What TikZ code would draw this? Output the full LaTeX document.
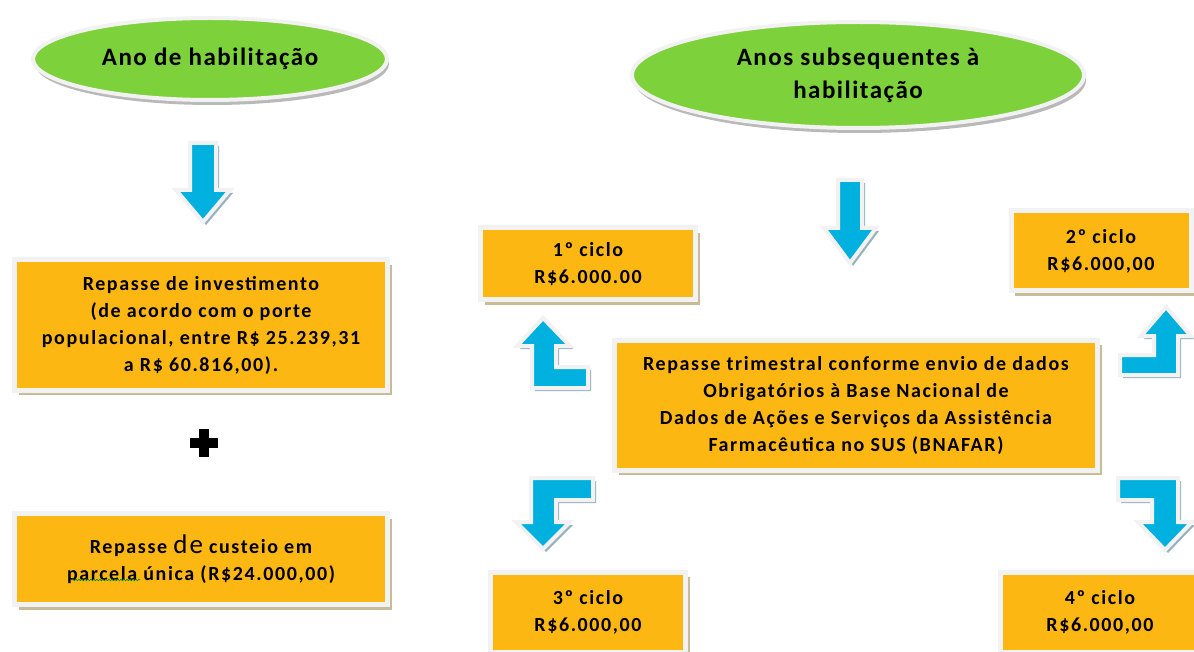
\documentclass[tikz,border=0pt]{standalone}
\usepackage{fontspec}
\setmainfont{Carlito}
\usetikzlibrary{shapes.geometric,shadows,decorations.pathmorphing}

\definecolor{titlegreen}{RGB}{125,209,59}
\definecolor{boxorange}{RGB}{253,183,19}
\definecolor{boxshade}{RGB}{200,188,152}
\definecolor{arrowblue}{RGB}{0,176,222}
\definecolor{arrowshade}{RGB}{150,178,190}

\tikzset{
  title/.style={ellipse, fill=titlegreen, draw=gray!10, line width=4pt,
    inner sep=0pt, align=center,
    font=\fontsize{25}{33}\selectfont\bfseries\addfontfeature{LetterSpace=6},
    drop shadow={shadow xshift=2pt, shadow yshift=-5pt, fill=gray!55, opacity=1}},
  money/.style={rectangle, fill=boxorange, draw=gray!10, line width=5pt,
    inner sep=0pt, align=center,
    font=\fontsize{20}{27}\selectfont\bfseries\addfontfeature{LetterSpace=8},
    drop shadow={shadow xshift=4pt, shadow yshift=-5pt, fill=boxshade, opacity=1}},
  blockarrow/.style={fill=arrowblue, draw=gray!10, line width=4pt, line join=miter,
    drop shadow={shadow xshift=3pt, shadow yshift=-3pt, fill=arrowshade, opacity=1}}
}

\begin{document}
\begin{tikzpicture}[x=1pt, y=-1pt]
  \clip (0,0) rectangle (1194,652);

  % titles
  \node[title, minimum width=354, minimum height=82] (first) at (210,59) {Ano de habilitação};
  \node[title, minimum width=452, minimum height=106] (later) at (858,75)
    {Anos subsequentes à\\habilitação};

  % left column
  \node[money, minimum width=373, minimum height=130] (invest) at (201,325)
    {Repasse de investimento\\(de acordo com o porte\\populacional, entre R\$ 25.239,31\\a R\$ 60.816,00).};
  \node[money, minimum width=373, minimum height=91] (custeio) at (201,559)
    {Repasse {\mdseries\fontsize{27}{27}\selectfont de} custeio em\\parcela única (R\$24.000,00)};
  \draw [line width=10pt] (190,443) -- (218,443) (204,429) -- (204,457);
  \draw [green!55!black, line width=0.6pt, decorate,
         decoration={snake, segment length=3pt, amplitude=0.8pt}]
    ([shift={(-129,21)}]custeio.center) -- ([shift={(-61,21)}]custeio.center);

  % right column
  \node[money, minimum width=215, minimum height=72] (c1) at (588,264) {1º ciclo\\R\$6.000.00};
  \node[money, minimum width=180, minimum height=80] (c2) at (1101,251) {2º ciclo\\R\$6.000,00};
  \node[money, minimum width=483, minimum height=130] (hub) at (856,405)
    {Repasse trimestral conforme envio de dados\\Obrigatórios à Base Nacional de\\
     Dados de Ações e Serviços da Assistência\\Farmacêutica no SUS (BNAFAR)};
  \node[money, minimum width=195, minimum height=80] (c3) at (588,612) {3º ciclo\\R\$6.000,00};
  \node[money, minimum width=200, minimum height=80] (c4) at (1100,612) {4º ciclo\\R\$6.000,00};

  % block arrows
  \draw [blockarrow] (190,143) -- (216,143) -- (216,190) -- (230,190) -- (203,222)
    -- (176,190) -- (190,190) -- cycle;
  \draw [blockarrow] (838,180) -- (862,180) -- (862,228) -- (876,228) -- (850,263)
    -- (824,228) -- (838,228) -- cycle;
  \draw [blockarrow] (588,388) -- (588,367) -- (556,367) -- (556,346) -- (570,346)
    -- (543,318) -- (517,346) -- (532,346) -- (532,388) -- cycle;
  \draw [blockarrow] (1120,375) -- (1120,355) -- (1154,355) -- (1154,336) -- (1141,336)
    -- (1166,307) -- (1191,336) -- (1178,336) -- (1178,375) -- cycle;
  \draw [blockarrow] (593,478) -- (593,500) -- (556,500) -- (556,522) -- (570,522)
    -- (543,549) -- (516,522) -- (531,522) -- (531,478) -- cycle;
  \draw [blockarrow] (1118,478) -- (1178,478) -- (1178,522) -- (1192,522) -- (1165,550)
    -- (1138,522) -- (1152,522) -- (1152,500) -- (1118,500) -- cycle;
\end{tikzpicture}
\end{document}
